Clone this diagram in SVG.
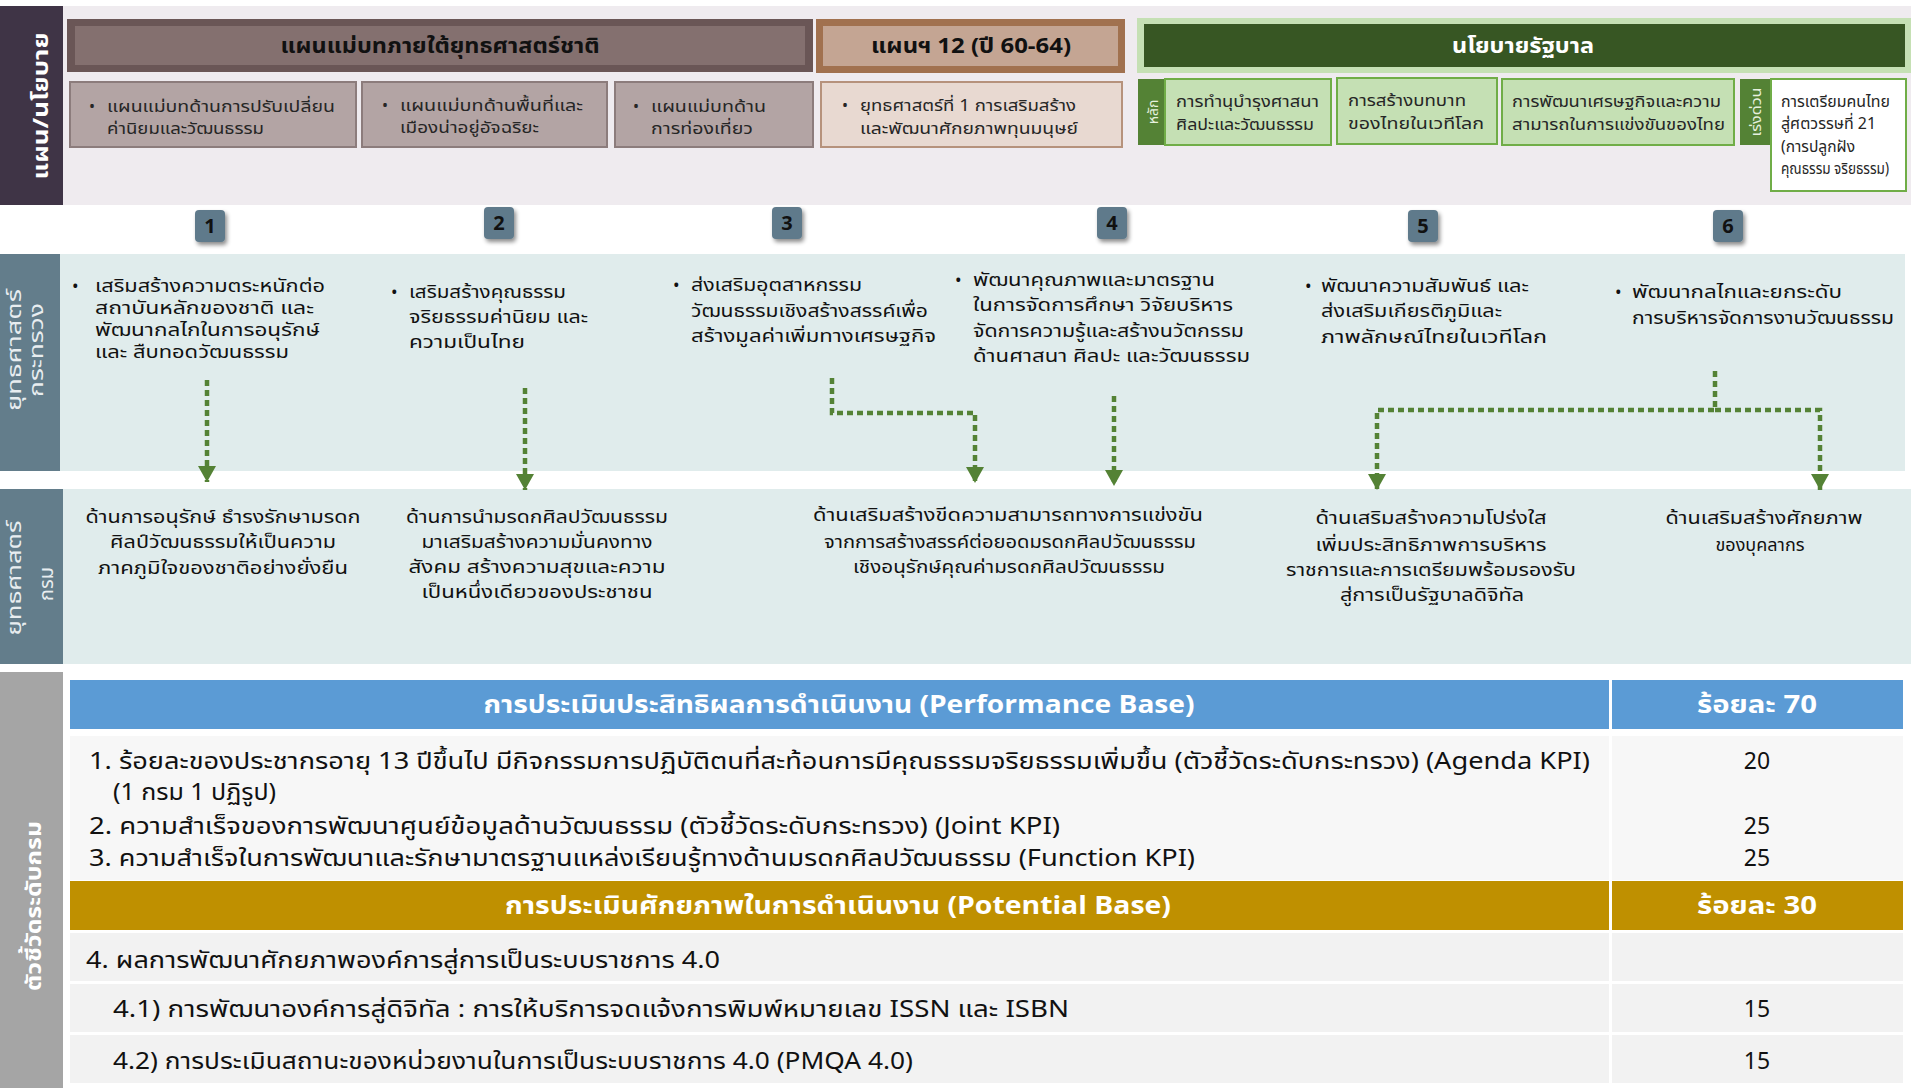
<svg xmlns="http://www.w3.org/2000/svg" width="1911" height="1088" viewBox="0 0 1911 1088">
<defs>
<style>
text { font-family: "Noto Sans Thai", "Noto Sans", "DejaVu Sans", "Liberation Sans", sans-serif; }
.sub { font-size: 16px; fill: #262626; }
.hd { font-size: 21px; font-weight: bold; }
.ms { font-size: 17.5px; fill: #111; }
.dp { font-size: 18px; fill: #111; text-anchor: middle; }
.kpi { font-size: 23px; fill: #111; }
.num { font-size: 23px; fill: #111; text-anchor: middle; }
.kh { font-size: 25px; font-weight: bold; fill: #fff; text-anchor: middle; }
.vl { font-size: 22px; font-weight: bold; fill: #fff; text-anchor: middle; }
.vm { font-size: 20px; fill: #e8edf0; text-anchor: middle; }
.badge { fill: #5E7A8B; }
.bn { font-size: 20px; font-weight: bold; fill: #111; text-anchor: middle; }
.gbox { fill: #C5E0B4; stroke: #70AD47; stroke-width: 2; }
.gtab { fill: #548235; }
.tab { font-size: 14px; fill: #E6F0DE; text-anchor: middle; }
.flow { fill: none; stroke: #548235; stroke-width: 4.5; stroke-dasharray: 6 4; }
.band { fill: #E0ECEC; }
.lab { fill: #637D8B; }
.row { fill: #F2F2F2; }
</style>
<filter id="sh" x="-30%" y="-30%" width="170%" height="170%">
<feDropShadow dx="2" dy="3" stdDeviation="2" flood-color="#000" flood-opacity="0.45"/>
</filter>
<marker id="ah" markerWidth="18" markerHeight="16" refX="9" refY="16" orient="0" markerUnits="userSpaceOnUse">
<path d="M0 0 L18 0 L9 16 Z" fill="#548235"/>
</marker>
</defs>

<!-- Top plan/policy band -->
<g id="plan-band">
<rect x="63" y="6" width="1848" height="199" fill="#EFEBEF"/>
<rect x="0" y="6" width="63" height="199" fill="#3F3446"/>
<text class="vl" transform="translate(48,106) rotate(-90)" textLength="147" lengthAdjust="spacingAndGlyphs">แผน/นโยบาย</text>
</g>

<g id="master-plan-header">
<rect x="67" y="19" width="746" height="53" fill="#6A5656"/>
<rect x="75" y="26" width="730" height="39" fill="#84706F"/>
<text class="hd" x="440" y="53" text-anchor="middle" fill="#111" textLength="319" lengthAdjust="spacingAndGlyphs">แผนแม่บทภายใต้ยุทธศาสตร์ชาติ</text>
</g>
<g id="mp-1">
<rect x="70" y="82" width="286" height="65" fill="#B3A4A4" stroke="#8C7C7C" stroke-width="2"/>
<text class="sub" x="89" y="112">•</text>
<text class="sub" x="107" y="112" textLength="228" lengthAdjust="spacingAndGlyphs">แผนแม่บทด้านการปรับเปลี่ยน</text>
<text class="sub" x="107" y="134" textLength="157" lengthAdjust="spacingAndGlyphs">ค่านิยมและวัฒนธรรม</text>
</g>
<g id="mp-2">
<rect x="362" y="82" width="245" height="65" fill="#B3A4A4" stroke="#8C7C7C" stroke-width="2"/>
<text class="sub" x="382" y="111">•</text>
<text class="sub" x="400" y="111" textLength="183" lengthAdjust="spacingAndGlyphs">แผนแม่บทด้านพื้นที่และ</text>
<text class="sub" x="400" y="133" textLength="139" lengthAdjust="spacingAndGlyphs">เมืองน่าอยู่อัจฉริยะ</text>
</g>
<g id="mp-3">
<rect x="615" y="82" width="198" height="65" fill="#B3A4A4" stroke="#8C7C7C" stroke-width="2"/>
<text class="sub" x="633" y="112">•</text>
<text class="sub" x="651" y="112" textLength="115" lengthAdjust="spacingAndGlyphs">แผนแม่บทด้าน</text>
<text class="sub" x="651" y="134" textLength="102" lengthAdjust="spacingAndGlyphs">การท่องเที่ยว</text>
</g>

<g id="plan12-header">
<rect x="816" y="19" width="309" height="54" fill="#A1714F"/>
<rect x="823" y="26" width="295" height="40" fill="#C4A593"/>
<text class="hd" x="971" y="53" text-anchor="middle" fill="#111" textLength="200" lengthAdjust="spacingAndGlyphs">แผนฯ 12 (ปี 60-64)</text>
</g>
<g id="plan12-1">
<rect x="821" y="82" width="301" height="65" fill="#E8D9D1" stroke="#B6927C" stroke-width="2"/>
<text class="sub" x="842" y="111">•</text>
<text class="sub" x="860" y="111" textLength="216" lengthAdjust="spacingAndGlyphs">ยุทธศาสตร์ที่ 1 การเสริมสร้าง</text>
<text class="sub" x="860" y="134" textLength="218" lengthAdjust="spacingAndGlyphs">และพัฒนาศักยภาพทุนมนุษย์</text>
</g>

<g id="gov-header">
<rect x="1137" y="18" width="774" height="55" fill="#C5E0B4"/>
<rect x="1144" y="24" width="761" height="43" fill="#375623"/>
<text class="hd" x="1523" y="53" text-anchor="middle" fill="#fff" textLength="142" lengthAdjust="spacingAndGlyphs">นโยบายรัฐบาล</text>
</g>
<g id="gov-main-tab">
<rect class="gtab" x="1138" y="79" width="27" height="66"/>
<text class="tab" transform="translate(1158,112) rotate(-90)">หลัก</text>
</g>
<g id="gov-1">
<rect class="gbox" x="1165" y="79" width="166" height="66"/>
<text class="sub" x="1176" y="107" textLength="143" lengthAdjust="spacingAndGlyphs">การทำนุบำรุงศาสนา</text>
<text class="sub" x="1176" y="130" textLength="138" lengthAdjust="spacingAndGlyphs">ศิลปะและวัฒนธรรม</text>
</g>
<g id="gov-2">
<rect class="gbox" x="1337" y="78" width="160" height="66"/>
<text class="sub" x="1348" y="106" textLength="118" lengthAdjust="spacingAndGlyphs">การสร้างบทบาท</text>
<text class="sub" x="1348" y="129" textLength="136" lengthAdjust="spacingAndGlyphs">ของไทยในเวทีโลก</text>
</g>
<g id="gov-3">
<rect class="gbox" x="1502" y="79" width="232" height="66"/>
<text class="sub" x="1512" y="107" textLength="209" lengthAdjust="spacingAndGlyphs">การพัฒนาเศรษฐกิจและความ</text>
<text class="sub" x="1512" y="130" textLength="213" lengthAdjust="spacingAndGlyphs">สามารถในการแข่งขันของไทย</text>
</g>
<g id="gov-urgent-tab">
<rect class="gtab" x="1740" y="79" width="31" height="66"/>
<text class="tab" transform="translate(1761,112) rotate(-90)" textLength="49" lengthAdjust="spacingAndGlyphs">เร่งด่วน</text>
</g>
<g id="gov-4">
<rect x="1771" y="79" width="135" height="112" fill="#fff" stroke="#70AD47" stroke-width="2"/>
<text class="sub" x="1781" y="107" textLength="109" lengthAdjust="spacingAndGlyphs">การเตรียมคนไทย</text>
<text class="sub" x="1781" y="129" textLength="95" lengthAdjust="spacingAndGlyphs">สู่ศตวรรษที่ 21</text>
<text class="sub" x="1781" y="152" textLength="74" lengthAdjust="spacingAndGlyphs">(การปลูกฝัง</text>
<text class="sub" x="1781" y="174" textLength="108" lengthAdjust="spacingAndGlyphs">คุณธรรม จริยธรรม)</text>
</g>

<!-- Ministry strategy band -->
<g id="ministry-band">
<rect class="band" x="60" y="254" width="1845" height="217"/>
<rect class="lab" x="0" y="254" width="60" height="217"/>
<text class="vm" transform="translate(21,350) rotate(-90)" textLength="122" lengthAdjust="spacingAndGlyphs">ยุทธศาสตร์</text>
<text class="vm" transform="translate(43,350) rotate(-90)" textLength="94" lengthAdjust="spacingAndGlyphs">กระทรวง</text>
</g>

<!-- Department strategy band -->
<g id="dept-band">
<rect class="band" x="63" y="489" width="1848" height="175"/>
<rect class="lab" x="0" y="489" width="63" height="175"/>
<text class="vm" transform="translate(21,578) rotate(-90)" textLength="115" lengthAdjust="spacingAndGlyphs">ยุทธศาสตร์</text>
<text class="vm" transform="translate(53,584) rotate(-90)">กรม</text>
</g>

<!-- Badges -->
<g id="badge-1"><rect class="badge" x="195" y="210" width="30" height="32" rx="4" filter="url(#sh)"/><text class="bn" x="210" y="233">1</text></g>
<g id="badge-2"><rect class="badge" x="484" y="207" width="30" height="32" rx="4" filter="url(#sh)"/><text class="bn" x="499" y="230">2</text></g>
<g id="badge-3"><rect class="badge" x="772" y="207" width="30" height="32" rx="4" filter="url(#sh)"/><text class="bn" x="787" y="230">3</text></g>
<g id="badge-4"><rect class="badge" x="1097" y="207" width="30" height="32" rx="4" filter="url(#sh)"/><text class="bn" x="1112" y="230">4</text></g>
<g id="badge-5"><rect class="badge" x="1408" y="210" width="30" height="32" rx="4" filter="url(#sh)"/><text class="bn" x="1423" y="233">5</text></g>
<g id="badge-6"><rect class="badge" x="1713" y="210" width="30" height="32" rx="4" filter="url(#sh)"/><text class="bn" x="1728" y="233">6</text></g>

<!-- Ministry strategies -->
<g id="ms-1">
<text class="ms" x="72" y="292">•</text>
<text class="ms" x="95" y="292" textLength="230" lengthAdjust="spacingAndGlyphs">เสริมสร้างความตระหนักต่อ</text>
<text class="ms" x="95" y="314" textLength="219" lengthAdjust="spacingAndGlyphs">สถาบันหลักของชาติ และ</text>
<text class="ms" x="95" y="336" textLength="225" lengthAdjust="spacingAndGlyphs">พัฒนากลไกในการอนุรักษ์</text>
<text class="ms" x="95" y="358" textLength="194" lengthAdjust="spacingAndGlyphs">และ สืบทอดวัฒนธรรม</text>
</g>
<g id="ms-2">
<text class="ms" x="391" y="298">•</text>
<text class="ms" x="409" y="298" textLength="157" lengthAdjust="spacingAndGlyphs">เสริมสร้างคุณธรรม</text>
<text class="ms" x="409" y="323" textLength="179" lengthAdjust="spacingAndGlyphs">จริยธรรมค่านิยม และ</text>
<text class="ms" x="409" y="348" textLength="116" lengthAdjust="spacingAndGlyphs">ความเป็นไทย</text>
</g>
<g id="ms-3">
<text class="ms" x="673" y="291">•</text>
<text class="ms" x="691" y="291" textLength="171" lengthAdjust="spacingAndGlyphs">ส่งเสริมอุตสาหกรรม</text>
<text class="ms" x="691" y="317" textLength="237" lengthAdjust="spacingAndGlyphs">วัฒนธรรมเชิงสร้างสรรค์เพื่อ</text>
<text class="ms" x="691" y="342" textLength="245" lengthAdjust="spacingAndGlyphs">สร้างมูลค่าเพิ่มทางเศรษฐกิจ</text>
</g>
<g id="ms-4">
<text class="ms" x="955" y="286">•</text>
<text class="ms" x="973" y="286" textLength="242" lengthAdjust="spacingAndGlyphs">พัฒนาคุณภาพและมาตรฐาน</text>
<text class="ms" x="973" y="311" textLength="260" lengthAdjust="spacingAndGlyphs">ในการจัดการศึกษา วิจัยบริหาร</text>
<text class="ms" x="973" y="337" textLength="271" lengthAdjust="spacingAndGlyphs">จัดการความรู้และสร้างนวัตกรรม</text>
<text class="ms" x="973" y="362" textLength="277" lengthAdjust="spacingAndGlyphs">ด้านศาสนา ศิลปะ และวัฒนธรรม</text>
</g>
<g id="ms-5">
<text class="ms" x="1305" y="292">•</text>
<text class="ms" x="1321" y="292" textLength="208" lengthAdjust="spacingAndGlyphs">พัฒนาความสัมพันธ์ และ</text>
<text class="ms" x="1321" y="317" textLength="181" lengthAdjust="spacingAndGlyphs">ส่งเสริมเกียรติภูมิและ</text>
<text class="ms" x="1321" y="343" textLength="226" lengthAdjust="spacingAndGlyphs">ภาพลักษณ์ไทยในเวทีโลก</text>
</g>
<g id="ms-6">
<text class="ms" x="1615" y="298">•</text>
<text class="ms" x="1632" y="298" textLength="210" lengthAdjust="spacingAndGlyphs">พัฒนากลไกและยกระดับ</text>
<text class="ms" x="1632" y="324" textLength="262" lengthAdjust="spacingAndGlyphs">การบริหารจัดการงานวัฒนธรรม</text>
</g>

<!-- Department strategies -->
<g id="ds-1">
<text class="dp" x="223" y="523" textLength="275" lengthAdjust="spacingAndGlyphs">ด้านการอนุรักษ์ ธำรงรักษามรดก</text>
<text class="dp" x="223" y="548" textLength="226" lengthAdjust="spacingAndGlyphs">ศิลป์วัฒนธรรมให้เป็นความ</text>
<text class="dp" x="223" y="574" textLength="250" lengthAdjust="spacingAndGlyphs">ภาคภูมิใจของชาติอย่างยั่งยืน</text>
</g>
<g id="ds-2">
<text class="dp" x="537" y="523" textLength="262" lengthAdjust="spacingAndGlyphs">ด้านการนำมรดกศิลปวัฒนธรรม</text>
<text class="dp" x="537" y="548" textLength="231" lengthAdjust="spacingAndGlyphs">มาเสริมสร้างความมั่นคงทาง</text>
<text class="dp" x="537" y="573" textLength="257" lengthAdjust="spacingAndGlyphs">สังคม สร้างความสุขและความ</text>
<text class="dp" x="537" y="598" textLength="231" lengthAdjust="spacingAndGlyphs">เป็นหนึ่งเดียวของประชาชน</text>
</g>
<g id="ds-3">
<text class="dp" x="1008" y="521" textLength="390" lengthAdjust="spacingAndGlyphs">ด้านเสริมสร้างขีดความสามารถทางการแข่งขัน</text>
<text class="dp" x="1010" y="548" textLength="372" lengthAdjust="spacingAndGlyphs">จากการสร้างสรรค์ต่อยอดมรดกศิลปวัฒนธรรม</text>
<text class="dp" x="1009" y="573" textLength="312" lengthAdjust="spacingAndGlyphs">เชิงอนุรักษ์คุณค่ามรดกศิลปวัฒนธรรม</text>
</g>
<g id="ds-4">
<text class="dp" x="1431" y="524" textLength="231" lengthAdjust="spacingAndGlyphs">ด้านเสริมสร้างความโปร่งใส</text>
<text class="dp" x="1431" y="551" textLength="231" lengthAdjust="spacingAndGlyphs">เพิ่มประสิทธิภาพการบริหาร</text>
<text class="dp" x="1431" y="576" textLength="290" lengthAdjust="spacingAndGlyphs">ราชการและการเตรียมพร้อมรองรับ</text>
<text class="dp" x="1432" y="601" textLength="184" lengthAdjust="spacingAndGlyphs">สู่การเป็นรัฐบาลดิจิทัล</text>
</g>
<g id="ds-5">
<text class="dp" x="1764" y="524" textLength="197" lengthAdjust="spacingAndGlyphs">ด้านเสริมสร้างศักยภาพ</text>
<text class="dp" x="1760" y="551" textLength="89" lengthAdjust="spacingAndGlyphs">ของบุคลากร</text>
</g>

<!-- Connectors -->
<g id="connectors">
<path class="flow" d="M207 380 V482" marker-end="url(#ah)"/>
<path class="flow" d="M525 388 V490" marker-end="url(#ah)"/>
<path class="flow" d="M832 378 V413 H975 V483" marker-end="url(#ah)"/>
<path class="flow" d="M1114 396 V486" marker-end="url(#ah)"/>
<path class="flow" d="M1715 371 V410 H1377 V490" marker-end="url(#ah)"/>
<path class="flow" d="M1715 410 H1820 V490" marker-end="url(#ah)"/>
</g>

<!-- KPI section -->
<g id="kpi-label">
<rect x="0" y="672" width="63" height="416" fill="#A5A5A5"/>
<text class="vl" transform="translate(41,906) rotate(-90)" textLength="170" lengthAdjust="spacingAndGlyphs">ตัวชี้วัดระดับกรม</text>
</g>
<g id="kpi-performance">
<rect x="70" y="680" width="1539" height="49" fill="#5B9BD5"/>
<rect x="1612" y="680" width="291" height="49" fill="#5B9BD5"/>
<text class="kh" x="839" y="713" textLength="711" lengthAdjust="spacingAndGlyphs">การประเมินประสิทธิผลการดำเนินงาน (Performance Base)</text>
<text class="kh" x="1757" y="713" textLength="120" lengthAdjust="spacingAndGlyphs">ร้อยละ 70</text>
<rect x="70" y="736" width="1539" height="144" fill="#F7F7F7"/>
<rect x="1612" y="736" width="291" height="144" fill="#F7F7F7"/>
<text class="kpi" x="89" y="769" textLength="1501" lengthAdjust="spacingAndGlyphs">1. ร้อยละของประชากรอายุ 13 ปีขึ้นไป มีกิจกรรมการปฏิบัติตนที่สะท้อนการมีคุณธรรมจริยธรรมเพิ่มขึ้น (ตัวชี้วัดระดับกระทรวง) (Agenda KPI)</text>
<text class="kpi" x="113" y="800" textLength="163" lengthAdjust="spacingAndGlyphs">(1 กรม 1 ปฏิรูป)</text>
<text class="kpi" x="89" y="834" textLength="971" lengthAdjust="spacingAndGlyphs">2. ความสำเร็จของการพัฒนาศูนย์ข้อมูลด้านวัฒนธรรม (ตัวชี้วัดระดับกระทรวง) (Joint  KPI)</text>
<text class="kpi" x="89" y="866" textLength="1106" lengthAdjust="spacingAndGlyphs">3. ความสำเร็จในการพัฒนาและรักษามาตรฐานแหล่งเรียนรู้ทางด้านมรดกศิลปวัฒนธรรม (Function KPI)</text>
<text class="num" x="1757" y="769">20</text>
<text class="num" x="1757" y="834">25</text>
<text class="num" x="1757" y="866">25</text>
</g>
<g id="kpi-potential">
<rect x="70" y="881" width="1539" height="49" fill="#BF9000"/>
<rect x="1612" y="881" width="291" height="49" fill="#BF9000"/>
<text class="kh" x="838" y="914" textLength="666" lengthAdjust="spacingAndGlyphs">การประเมินศักยภาพในการดำเนินงาน (Potential Base)</text>
<text class="kh" x="1757" y="914" textLength="120" lengthAdjust="spacingAndGlyphs">ร้อยละ 30</text>
<rect class="row" x="70" y="933" width="1539" height="48"/>
<rect class="row" x="1612" y="933" width="291" height="48"/>
<rect class="row" x="70" y="984" width="1539" height="48"/>
<rect class="row" x="1612" y="984" width="291" height="48"/>
<rect class="row" x="70" y="1035" width="1539" height="48"/>
<rect class="row" x="1612" y="1035" width="291" height="48"/>
<text class="kpi" x="86" y="968" textLength="634" lengthAdjust="spacingAndGlyphs">4. ผลการพัฒนาศักยภาพองค์การสู่การเป็นระบบราชการ 4.0</text>
<text class="kpi" x="113" y="1017" textLength="956" lengthAdjust="spacingAndGlyphs">4.1) การพัฒนาองค์การสู่ดิจิทัล : การให้บริการจดแจ้งการพิมพ์หมายเลข ISSN และ ISBN</text>
<text class="kpi" x="113" y="1069" textLength="800" lengthAdjust="spacingAndGlyphs">4.2) การประเมินสถานะของหน่วยงานในการเป็นระบบราชการ 4.0 (PMQA 4.0)</text>
<text class="num" x="1757" y="1017">15</text>
<text class="num" x="1757" y="1069">15</text>
</g>
</svg>
